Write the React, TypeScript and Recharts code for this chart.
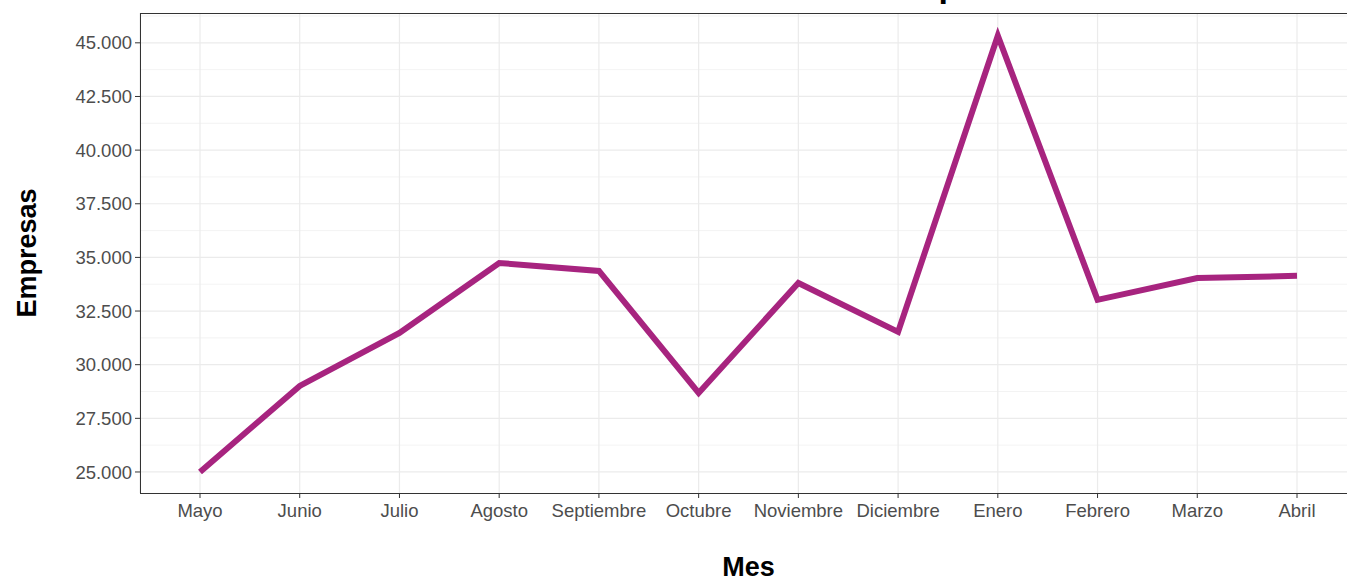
import { LineChart, Line, XAxis, YAxis, CartesianGrid } from 'recharts';

const meses = ['Mayo', 'Junio', 'Julio', 'Agosto', 'Septiembre', 'Octubre', 'Noviembre', 'Diciembre', 'Enero', 'Febrero', 'Marzo', 'Abril'];
const empresas = [25000, 29010, 31480, 34740, 34370, 28680, 33810, 31530, 45330, 33020, 34040, 34140];
const ticksY = [25000, 27500, 30000, 32500, 35000, 37500, 40000, 42500, 45000];
const minorY = [26250, 28750, 31250, 33750, 36250, 38750, 41250, 43750, 46250];

const data = meses.map((mes, i) => ({ mes, empresas: empresas[i] }));

const font = 'Arial, "Liberation Sans", sans-serif';
const fmt = (v: number) => v.toLocaleString('de-DE');

const YTitle = ({ viewBox }: any) => {
  const cy = viewBox.y + viewBox.height / 2;
  return (
    <text x={27} y={cy} transform={`rotate(-90, 27, ${cy})`} textAnchor="middle" dominantBaseline="central"
      fontFamily={font} fontWeight="bold" fontSize={27} fill="#000">
      Empresas
    </text>
  );
};

const XTitle = ({ viewBox }: any) => (
  <text x={viewBox.x + viewBox.width / 2} y={576} textAnchor="middle"
    fontFamily={font} fontWeight="bold" fontSize={27} fill="#000">
    Mes
  </text>
);

export default function App() {
  return (
    <div style={{ position: 'absolute', left: 0, top: 0, width: 1347, height: 577, overflow: 'hidden', background: '#fff' }}>
      <LineChart width={1357} height={577} data={data} margin={{ top: 13, right: 0, left: 0, bottom: 0 }}>
        <text x={762} y={-3} textAnchor="middle" fontFamily={font} fontWeight="bold" fontSize={34} fill="#000">
          Evolución del número de empresas
        </text>
        <CartesianGrid vertical={false} horizontalValues={minorY} stroke="#EBEBEB" strokeWidth={0.6} />
        <CartesianGrid horizontalValues={ticksY} stroke="#EBEBEB" strokeWidth={1.2} />
        <XAxis dataKey="mes" padding={{ left: 60, right: 60 }} height={84} interval={0}
          axisLine={false} tickSize={5} tickMargin={6} tickLine={{ stroke: '#333' }}
          tick={{ fontSize: 18.5, fill: '#4D4D4D', fontFamily: font }}
          label={{ content: XTitle }} />
        <YAxis width={140} domain={[24020, 46390]} ticks={ticksY} tickFormatter={fmt}
          axisLine={false} tickSize={5} tickMargin={3} tickLine={{ stroke: '#333' }}
          tick={{ fontSize: 18.5, fill: '#4D4D4D', fontFamily: font }}
          label={{ content: YTitle }} />
        <Line type="linear" dataKey="empresas" stroke="#A7247F" strokeWidth={6} dot={false} isAnimationActive={false} />
      </LineChart>
      <div style={{ position: 'absolute', left: 140, top: 13, width: 1218, height: 481, boxSizing: 'border-box', border: '1px solid #333', pointerEvents: 'none' }} />
    </div>
  );
}
